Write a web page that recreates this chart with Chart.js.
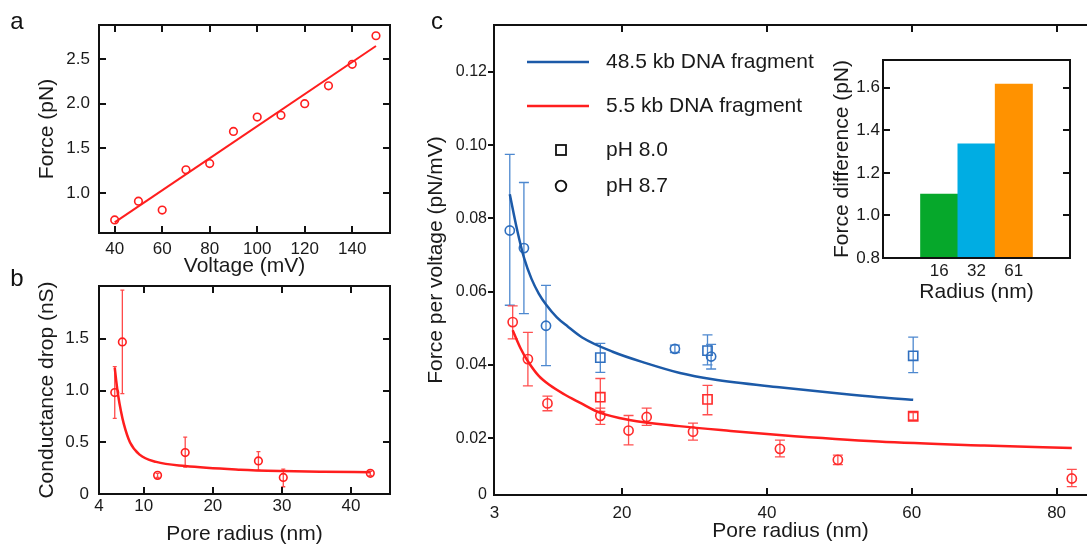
<!DOCTYPE html>
<html>
<head>
<meta charset="utf-8">
<script src="https://cdn.jsdelivr.net/npm/chart.js@4.4.1/dist/chart.umd.min.js"></script>
<style>
html, body { margin: 0; padding: 0; background: #fff; }
body { width: 1087px; height: 547px; position: relative; overflow: hidden; }
canvas { position: absolute; left: 0; top: 0; }
</style>
</head>
<body>
<canvas id="chartA" width="1087" height="547"></canvas>
<canvas id="chartB" width="1087" height="547"></canvas>
<canvas id="chartC" width="1087" height="547"></canvas>
<canvas id="chartInset" width="1087" height="547"></canvas>
<script>
// ---- panel a : force vs voltage
let voltage = [40, 50, 60, 70, 80, 90, 100, 110, 120, 130, 140, 150];
let forceA = [0.70, 0.91, 0.81, 1.26, 1.33, 1.69, 1.85, 1.87, 2.00, 2.20, 2.44, 2.76];
let fitVoltage = [40, 150];
let fitForce = [0.672, 2.645];
let aXTicks = [40, 60, 80, 100, 120, 140];
let aXLabels = ['40', '60', '80', '100', '120', '140'];
let aYTicks = [1.0, 1.5, 2.0, 2.5];
let aYLabels = ['1.0', '1.5', '2.0', '2.5'];

// ---- panel b : conductance drop vs pore radius
let radiusB = [5.8, 6.9, 12.0, 16.0, 26.6, 30.2, 42.8];
let dropB = [0.98, 1.47, 0.18, 0.40, 0.32, 0.16, 0.20];
let dropLoB = [0.73, 0.97, 0.16, 0.26, 0.23, 0.07, 0.18];
let dropHiB = [1.23, 1.97, 0.20, 0.55, 0.41, 0.24, 0.22];
let fitRadiusB = [5.8, 6.0, 6.3, 6.7, 7.1, 8.0, 9.4, 11.8, 16, 24, 30, 36, 42.8];
let fitDropB = [1.22, 1.10, 0.95, 0.80, 0.68, 0.50, 0.38, 0.31, 0.27, 0.235, 0.222, 0.215, 0.21];
let bXTicks = [3.52, 10, 20, 30, 40];
let bXLabels = ['4', '10', '20', '30', '40'];
let bYTicks = [0, 0.5, 1.0, 1.5];
let bYLabels = ['0', '0.5', '1.0', '1.5'];

// ---- panel c : force per voltage vs pore radius
let longCircR = [4.5, 6.45, 9.5, 27.3, 32.3];
let longCircF = [0.0767, 0.0719, 0.0507, 0.0444, 0.0423];
let longCircLo = [0.0563, 0.0540, 0.0398, 0.0434, 0.0389];
let longCircHi = [0.0975, 0.0898, 0.0617, 0.0454, 0.0456];
let longSqR = [17.0, 31.8, 60.2];
let longSqF = [0.0420, 0.0439, 0.0425];
let longSqLo = [0.0380, 0.0400, 0.0379];
let longSqHi = [0.0459, 0.0482, 0.0476];
let shortCircR = [4.9, 7.0, 9.7, 17.0, 20.9, 23.4, 29.8, 41.8, 49.8, 82.1];
let shortCircF = [0.0517, 0.0416, 0.0295, 0.0261, 0.0221, 0.0258, 0.0218, 0.0171, 0.0141, 0.0090];
let shortCircLo = [0.0471, 0.0343, 0.0275, 0.0238, 0.0182, 0.0235, 0.0195, 0.0149, 0.0128, 0.0068];
let shortCircHi = [0.0561, 0.0489, 0.0315, 0.0282, 0.0262, 0.0282, 0.0241, 0.0195, 0.0154, 0.0115];
let shortSqR = [17.0, 31.8, 60.2];
let shortSqF = [0.0312, 0.0306, 0.0260];
let shortSqLo = [0.0273, 0.0264, 0.0250];
let shortSqHi = [0.0363, 0.0344, 0.0270];
let longFitR = [4.5, 5.5, 6.5, 7.5, 8.5, 9.5, 11, 12.5, 14.5, 18.7, 23.3, 28, 32.5, 41.7, 50, 55.4, 60.2];
let longFitF = [0.0866, 0.077, 0.069, 0.0635, 0.0595, 0.0565, 0.053, 0.0505, 0.0475, 0.0436, 0.0405, 0.0378, 0.0361, 0.0339, 0.0322, 0.0312, 0.0305];
let shortFitR = [4.9, 6, 7, 8.5, 10, 12, 14.1, 16.9, 21, 27.9, 35, 41.7, 55.4, 70, 82.1];
let shortFitF = [0.0495, 0.0445, 0.041, 0.037, 0.0345, 0.032, 0.0298, 0.027, 0.025, 0.0233, 0.022, 0.0209, 0.0191, 0.018, 0.0173];
let cXTicks = [2.37, 20, 40, 60, 80];
let cXLabels = ['3', '20', '40', '60', '80'];
let cYTicks = [0.0045, 0.02, 0.04, 0.06, 0.08, 0.10, 0.12];
let cYLabels = ['0', '0.02', '0.04', '0.06', '0.08', '0.10', '0.12'];

// ---- inset : force difference per radius
let insetPos = [1, 2, 3];
let insetRadius = ['16', '32', '61'];
let insetForce = [1.10, 1.336, 1.617];
let insetColors = ['#06a82b', '#00ade3', '#ff9200'];
let insetYTicks = [0.8, 1.0, 1.2, 1.4, 1.6];
let insetYLabels = ['0.8', '1.0', '1.2', '1.4', '1.6'];

const FONT = '"Liberation Sans", Arial, sans-serif';
const INK = '#1a1a1a';
const RED = '#ff1e1e';
const BLUE = '#1c5aa8';
Chart.defaults.font.family = FONT;
Chart.defaults.color = INK;

function pts(xs, ys) {
  return xs.map((x, i) => ({x: x, y: ys[i]}));
}

function axis(o) {
  return {
    type: 'linear', min: o.min, max: o.max,
    grid: {display: false, drawTicks: false},
    border: {display: false},
    afterBuildTicks: s => { s.ticks = o.ticks.map(v => ({value: v})); },
    afterFit: s => { if (s.isHorizontal()) s.height = o.size; else s.width = o.size; },
    ticks: {autoSkip: false, maxRotation: 0, padding: o.pad, font: {size: o.font || 17}, color: INK,
            callback: (v, i) => o.labels[i]},
    title: {display: true, text: o.title, font: {size: 21}, color: INK, padding: o.titlePad}
  };
}

// box round the plot area, ticks pointing inward
function frame(o) {
  return {
    id: 'frame',
    afterDatasetsDraw(chart) {
      const {ctx, chartArea: a, scales} = chart;
      ctx.save();
      ctx.strokeStyle = '#111';
      ctx.lineWidth = 2;
      ctx.beginPath();
      ctx.moveTo(a.left, a.top - 1); ctx.lineTo(a.left, a.bottom + 1);
      ctx.moveTo(a.left - 1, a.bottom); ctx.lineTo(a.right + 1, a.bottom);
      ctx.moveTo(a.left - 1, a.top); ctx.lineTo(a.right + 1, a.top);
      if (o.right) { ctx.moveTo(a.right, a.top - 1); ctx.lineTo(a.right, a.bottom + 1); }
      o.xTicks.forEach(v => {
        const px = Math.round(scales.x.getPixelForValue(v));
        ctx.moveTo(px, a.top); ctx.lineTo(px, a.top + 7);
        ctx.moveTo(px, a.bottom); ctx.lineTo(px, a.bottom - 7);
      });
      o.yTicks.forEach(v => {
        const py = Math.round(scales.y.getPixelForValue(v));
        if (o.leftOut) { ctx.moveTo(a.left - 6, py); ctx.lineTo(a.left, py); }
        else { ctx.moveTo(a.left, py); ctx.lineTo(a.left + 7, py); }
        if (o.right) { ctx.moveTo(a.right, py); ctx.lineTo(a.right - 7, py); }
      });
      ctx.stroke();
      if (o.letter) {
        ctx.fillStyle = '#111';
        ctx.font = '24px ' + FONT;
        ctx.textAlign = 'center';
        ctx.textBaseline = 'middle';
        ctx.fillText(o.letter, o.lx, o.ly);
      }
      ctx.restore();
    }
  };
}

// vertical error bars with caps, read from dataset.errLo / dataset.errHi
const errorBars = {
  id: 'errorBars',
  beforeDatasetsDraw(chart) {
    const {ctx, scales} = chart;
    chart.data.datasets.forEach(ds => {
      if (!ds.errLo) return;
      ctx.save();
      ctx.strokeStyle = ds.errColor;
      ctx.lineWidth = 1.3;
      ctx.beginPath();
      ds.data.forEach((p, i) => {
        const px = scales.x.getPixelForValue(p.x);
        const lo = scales.y.getPixelForValue(ds.errLo[i]);
        const hi = scales.y.getPixelForValue(ds.errHi[i]);
        const c = ds.capW / 2;
        ctx.moveTo(px, lo); ctx.lineTo(px, hi);
        ctx.moveTo(px - c, lo); ctx.lineTo(px + c, lo);
        ctx.moveTo(px - c, hi); ctx.lineTo(px + c, hi);
      });
      ctx.stroke();
      ctx.restore();
    });
  }
};

const legendC = {
  id: 'legendC',
  afterDraw(chart) {
    const ctx = chart.ctx;
    ctx.save();
    ctx.lineWidth = 2.5;
    ctx.strokeStyle = BLUE;
    ctx.beginPath(); ctx.moveTo(527, 62); ctx.lineTo(589, 62); ctx.stroke();
    ctx.strokeStyle = RED;
    ctx.beginPath(); ctx.moveTo(527, 106); ctx.lineTo(589, 106); ctx.stroke();
    ctx.strokeStyle = '#111';
    ctx.lineWidth = 1.8;
    ctx.strokeRect(556, 145, 10, 10);
    ctx.beginPath(); ctx.arc(561, 186, 5.3, 0, Math.PI * 2); ctx.stroke();
    ctx.fillStyle = INK;
    ctx.font = '21px ' + FONT;
    ctx.textAlign = 'left';
    ctx.textBaseline = 'middle';
    ctx.fillText('48.5 kb DNA fragment', 606, 62);
    ctx.fillText('5.5 kb DNA fragment', 606, 106);
    ctx.fillText('pH 8.0', 606, 150);
    ctx.fillText('pH 8.7', 606, 186);
    ctx.restore();
  }
};

const common = {
  responsive: false,
  animation: false,
  events: [],
  plugins: {legend: {display: false}, tooltip: {enabled: false}}
};

function curve(xs, ys, color, w) {
  return {data: pts(xs, ys), showLine: true, borderColor: color, borderWidth: w,
          pointRadius: 0, cubicInterpolationMode: 'monotone'};
}

function markers(xs, ys, style, r, color, lo, hi, errColor, capW) {
  return {data: pts(xs, ys), pointStyle: style, pointRadius: r, borderColor: color,
          backgroundColor: 'rgba(0,0,0,0)', borderWidth: 1.6,
          errLo: lo, errHi: hi, errColor: errColor, capW: capW};
}

// panel a
new Chart(document.getElementById('chartA'), {
  type: 'scatter',
  data: {datasets: [
    curve(fitVoltage, fitForce, RED, 2),
    markers(voltage, forceA, 'circle', 3.8, RED)
  ]},
  options: Object.assign({}, common, {
    layout: {autoPadding: false, padding: {left: 30, top: 25, right: 697, bottom: 267}},
    scales: {
      x: axis({min: 33.4, max: 155.9, ticks: aXTicks, labels: aXLabels, size: 47, pad: 6,
               title: 'Voltage (mV)', titlePad: {top: 0, bottom: 1}}),
      y: axis({min: 0.554, max: 2.88, ticks: aYTicks, labels: aYLabels, size: 69, pad: 9,
               title: 'Force (pN)', titlePad: {top: 5, bottom: 0}})
    }
  }),
  plugins: [frame({xTicks: aXTicks, yTicks: aYTicks, right: true, letter: 'a', lx: 17, ly: 22})]
});

// panel b
new Chart(document.getElementById('chartB'), {
  type: 'scatter',
  data: {datasets: [
    curve(fitRadiusB, fitDropB, RED, 2.5),
    markers(radiusB, dropB, 'circle', 3.8, RED, dropLoB, dropHiB, '#ff4a4a', 4)
  ]},
  options: Object.assign({}, common, {
    layout: {autoPadding: false, padding: {left: 30, top: 286, right: 697, bottom: 0}},
    scales: {
      x: axis({min: 3.52, max: 45.65, ticks: bXTicks, labels: bXLabels, size: 53, pad: 2,
               title: 'Pore radius (nm)', titlePad: {top: 0, bottom: 0}}),
      y: axis({min: 0, max: 2.01, ticks: bYTicks, labels: bYLabels, size: 69, pad: 10,
               title: 'Conductance drop (nS)', titlePad: {top: 5, bottom: 0}})
    }
  }),
  plugins: [errorBars, frame({xTicks: [10, 20, 30, 40], yTicks: [0.5, 1.0, 1.5], right: true,
                              letter: 'b', lx: 17, ly: 279})]
});

// panel c (plot runs off the right edge, so no right border)
new Chart(document.getElementById('chartC'), {
  type: 'scatter',
  data: {datasets: [
    curve(longFitR, longFitF, BLUE, 2.5),
    curve(shortFitR, shortFitF, RED, 2.5),
    markers(longCircR, longCircF, 'circle', 4.6, '#2f6fbf', longCircLo, longCircHi, '#4d88cf', 10),
    markers(longSqR, longSqF, 'rect', 6.5, '#2f6fbf', longSqLo, longSqHi, '#4d88cf', 10),
    markers(shortCircR, shortCircF, 'circle', 4.6, '#ff2b2b', shortCircLo, shortCircHi, '#ff5050', 10),
    markers(shortSqR, shortSqF, 'rect', 6.5, '#ff2b2b', shortSqLo, shortSqHi, '#ff5050', 10)
  ]},
  options: Object.assign({}, common, {
    layout: {autoPadding: false, padding: {left: 420, top: 25, right: 0, bottom: 0}},
    scales: {
      x: axis({min: 2.32, max: 84.2, ticks: cXTicks, labels: cXLabels, size: 52, pad: 8,
               title: 'Pore radius (nm)', titlePad: {top: 0, bottom: 3}}),
      y: axis({min: 0.0045, max: 0.1328, ticks: cYTicks, labels: cYLabels, size: 74, pad: 7, font: 16,
               title: 'Force per voltage (pN/mV)', titlePad: {top: 4, bottom: 0}})
    }
  }),
  plugins: [errorBars, legendC, frame({xTicks: [20, 40, 60, 80], yTicks: cYTicks.slice(1), right: false,
                                       leftOut: true, letter: 'c', lx: 437, ly: 22})]
});

// inset bar chart
new Chart(document.getElementById('chartInset'), {
  type: 'bar',
  data: {datasets: [{
    data: pts(insetPos, insetForce),
    backgroundColor: insetColors,
    borderWidth: 0,
    base: 0.8,
    clip: 0,
    barPercentage: 1,
    categoryPercentage: 1
  }]},
  options: Object.assign({}, common, {
    layout: {autoPadding: false, padding: {left: 826, top: 60, right: 17, bottom: 242}},
    scales: {
      x: axis({min: 0.33, max: 3.67, ticks: insetPos, labels: insetRadius, size: 47, pad: 3,
               title: 'Radius (nm)', titlePad: {top: 0, bottom: 0}}),
      y: axis({min: 0.8, max: 1.73, ticks: insetYTicks, labels: insetYLabels, size: 57, pad: 3,
               title: 'Force difference (pN)', titlePad: {top: 4, bottom: 0}})
    }
  }),
  plugins: [frame({xTicks: [], yTicks: [1.0, 1.2, 1.4, 1.6], right: true})]
});
</script>
</body>
</html>
